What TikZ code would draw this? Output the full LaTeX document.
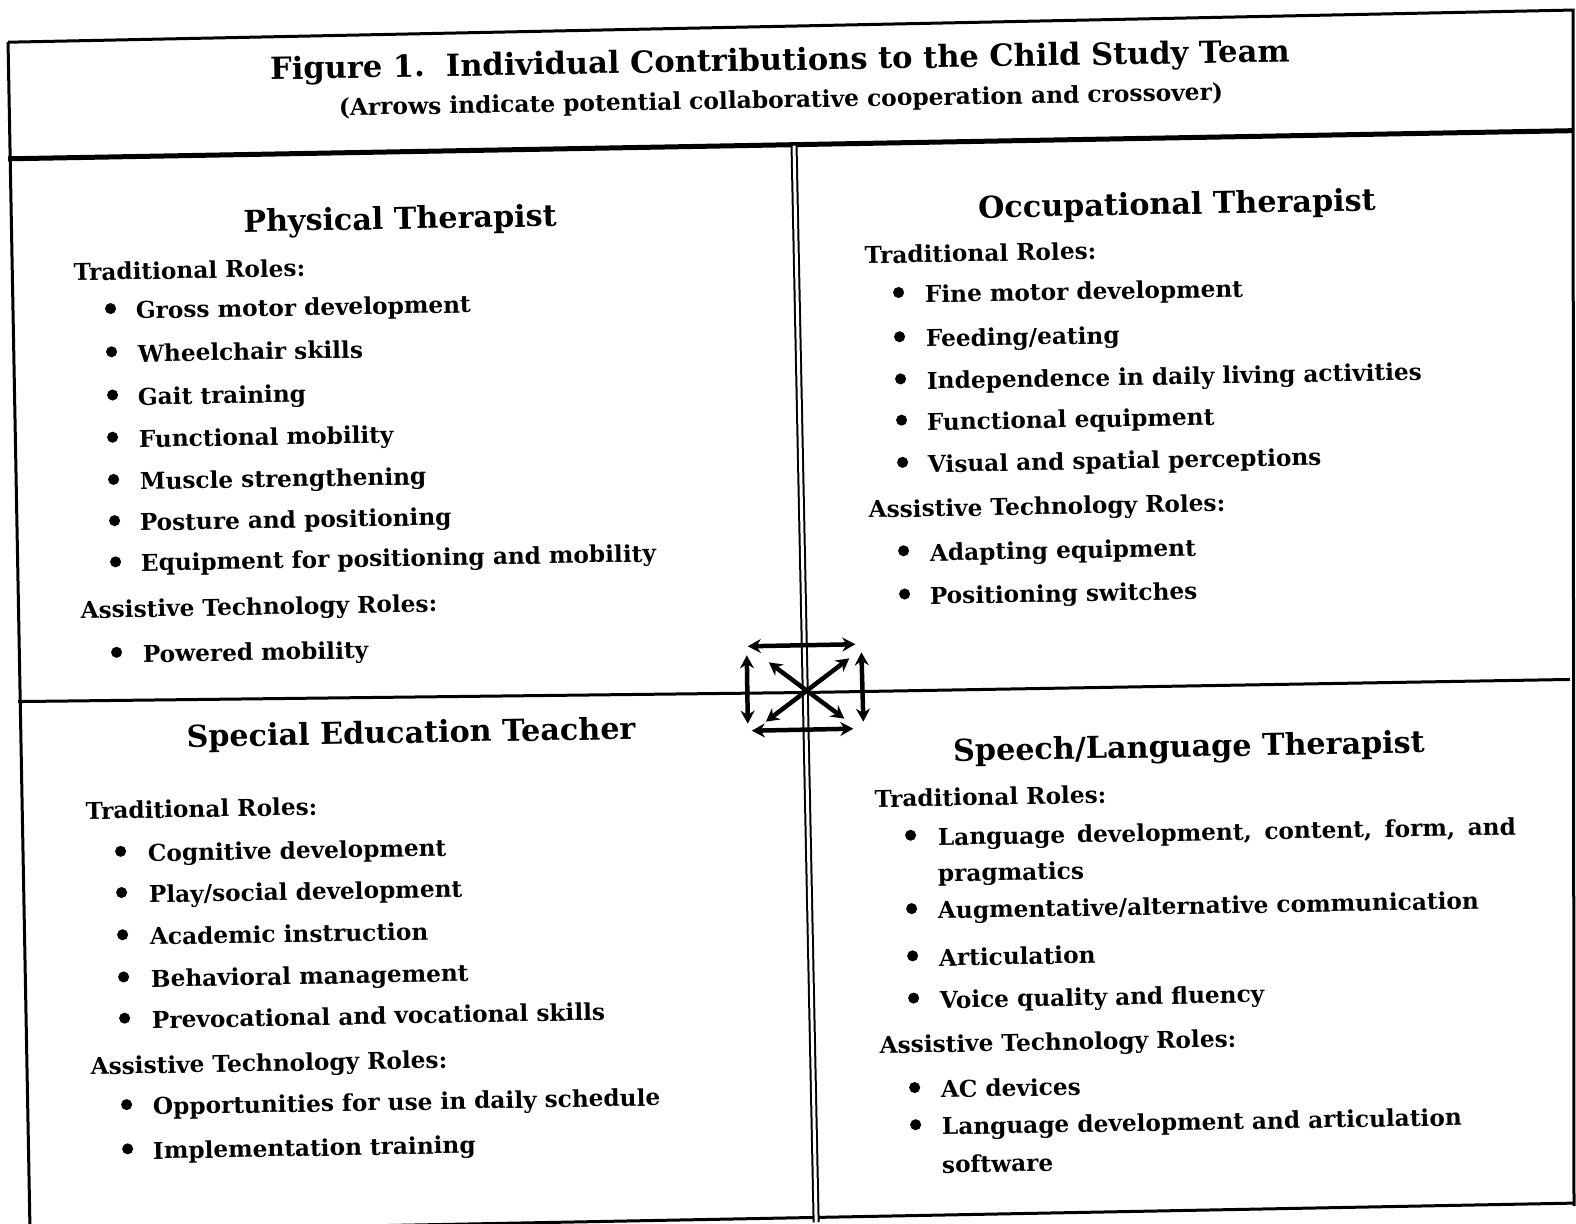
\documentclass[tikz,border=0pt]{standalone}
\usepackage{fontspec}
\setmainfont{DejaVu Serif}
\usetikzlibrary{arrows.meta}
\begin{document}
\begin{tikzpicture}[x=1.005pt,y=-1.005pt,
  frame/.style={line width=3pt},
  thickline/.style={line width=5pt},
  txt/.style={anchor=west,inner sep=0pt,rotate=1.05,yshift=-5.5pt,font=\fontsize{23.2}{27}\selectfont\bfseries,text height=17.4pt,text depth=5.9pt},
  head/.style={anchor=center,inner sep=0pt,rotate=1.05,font=\fontsize{30.2}{34}\selectfont\bfseries},
  titlestyle/.style={anchor=center,inner sep=0pt,rotate=1.0,font=\fontsize{30.5}{34}\selectfont\bfseries},
  sub/.style={anchor=center,inner sep=0pt,rotate=1.0,font=\fontsize{23.3}{27}\selectfont\bfseries},
  dot/.style={radius=5.5},
  arr/.style={line width=4.5pt,{Stealth[length=13pt,width=14pt]}-{Stealth[length=13pt,width=14pt]}}
]
\useasboundingbox (0,0) rectangle (1568,1217);
\clip (0,0) rectangle (1568,1217);
\fill[white] (0,0) rectangle (1568,1217);

% frame
\draw[frame] (8,42) -- (1565,10) -- (1566,1200);
\draw[frame] (8,42) -- (30,1232);
\draw[frame] (30,1226) -- (1566,1197);
\draw[thickline] (8,158) -- (1565,130);
\draw[line width=2pt,double,double distance=3pt] (790,145) -- (812,1216);
\draw[frame] (18,698) -- (800,689) -- (1562,676);

% title
\node[titlestyle] (title) at (776,62) {Figure 1.\ \ Individual Contributions to the Child Study Team};
\node[sub] (subtitle) at (777,101) {(Arrows indicate potential collaborative cooperation and crossover)};

% Physical Therapist
\node[head] (pth) at (398,220) {Physical Therapist};
\node[txt] (ptr) at (73,268) {Traditional Roles:};
\node[txt] (pt1) at (135,306) {Gross motor development};
\node[txt] (pt2) at (137,349) {Wheelchair skills};
\node[txt] (pt3) at (137,392) {Gait training};
\node[txt] (pt4) at (138,434) {Functional mobility};
\node[txt] (pt5) at (139,476) {Muscle strengthening};
\node[txt] (pt6) at (139,517) {Posture and positioning};
\node[txt] (pt7) at (140,557) {Equipment for positioning and mobility};
\node[txt] (pta) at (80,604) {Assistive Technology Roles:};
\node[txt] (pt8) at (142,648) {Powered mobility};
\foreach \x/\y in {110/307,111/350,112/393,112/435,113/477,114/518,115/559,116/649}
  \fill (\x,\y) circle[dot];

% Occupational Therapist
\node[head] (oth) at (1171,205) {Occupational Therapist};
\node[txt] (otr) at (860,251) {Traditional Roles:};
\node[txt] (ot1) at (920,290) {Fine motor development};
\node[txt] (ot2) at (921,334) {Feeding/eating};
\node[txt] (ot3) at (922,376) {Independence in daily living activities};
\node[txt] (ot4) at (922,417) {Functional equipment};
\node[txt] (ot5) at (923,459) {Visual and spatial perceptions};
\node[txt] (ota) at (864,504) {Assistive Technology Roles:};
\node[txt] (ot6) at (925,547) {Adapting equipment};
\node[txt] (ot7) at (925,590) {Positioning switches};
\foreach \x/\y in {894/291,895/335,896/377,897/418,898/460,899/548,900/591}
  \fill (\x,\y) circle[dot];

% Special Education Teacher
\node[head] (seh) at (409,731) {Special Education Teacher};
\node[txt] (ser) at (85,804) {Traditional Roles:};
\node[txt] (se1) at (147,846) {Cognitive development};
\node[txt] (se2) at (148,887) {Play/social development};
\node[txt] (se3) at (149,929) {Academic instruction};
\node[txt] (se4) at (150,971) {Behavioral management};
\node[txt] (se5) at (151,1012) {Prevocational and vocational skills};
\node[txt] (sea) at (90,1058) {Assistive Technology Roles:};
\node[txt] (se6) at (152,1098) {Opportunities for use in daily schedule};
\node[txt] (se7) at (152,1142) {Implementation training};
\foreach \x/\y in {120/847,121/888,122/930,123/972,124/1013,126/1099,127/1143}
  \fill (\x,\y) circle[dot];

% Speech/Language Therapist
\node[head] (slh) at (1183,745) {Speech/Language Therapist};
\node[txt] (slr) at (870,792) {Traditional Roles:};
\node[txt] (sl1) at (933,830) {\makebox[578pt][s]{Language development, content, form, and}};
\node[txt] (sl1b) at (933,866) {pragmatics};
\node[txt] (sl2) at (933,903) {Augmentative/alternative communication};
\node[txt] (sl3) at (934,950) {Articulation};
\node[txt] (sl4) at (935,992) {Voice quality and fluency};
\node[txt] (sla) at (875,1037) {Assistive Technology Roles:};
\node[txt] (sl5) at (936,1081) {AC devices};
\node[txt] (sl6) at (937,1118) {Language development and articulation};
\node[txt] (sl6b) at (937,1156) {software};
\foreach \x/\y in {906/831,907/904,908/951,909/993,910/1082,911/1119}
  \fill (\x,\y) circle[dot];

% central collaboration symbol
\coordinate (tl) at (744,643); \coordinate (tr) at (851,641);
\coordinate (bl) at (748,727); \coordinate (br) at (849,725);
\coordinate (lt) at (743,652); \coordinate (lb) at (744,720);
\coordinate (rt) at (857,649); \coordinate (rb) at (859,718);
\coordinate (d1a) at (765,659); \coordinate (d1b) at (840,715);
\coordinate (d2a) at (845,655); \coordinate (d2b) at (762,718);
\draw[arr] (tl) -- (tr);
\draw[arr] (bl) -- (br);
\draw[arr] (lt) -- (lb);
\draw[arr] (rt) -- (rb);
\draw[arr] (d1a) -- (d1b);
\draw[arr] (d2a) -- (d2b);
\end{tikzpicture}
\end{document}
